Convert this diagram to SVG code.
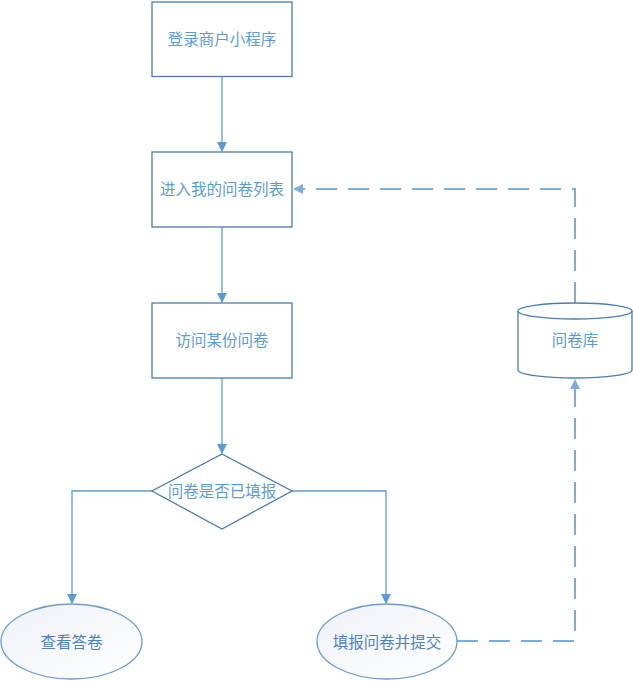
<svg xmlns="http://www.w3.org/2000/svg" width="633" height="681" viewBox="0 0 633 681">
<style>
.n{fill:#fff;stroke:#4a7cb0;stroke-width:1.3}
.t{font-family:"Noto Sans CJK SC","Microsoft YaHei",sans-serif;font-size:15.5px;fill:#5b9bd5;text-anchor:middle;dominant-baseline:central}
.c{fill:none;stroke:#5b9bd5;stroke-width:1.3}
.d{fill:none;stroke:#5b9bd5;stroke-width:2;stroke-dasharray:21 11;opacity:.8}
</style>
<defs>
<marker id="a" markerWidth="10" markerHeight="10" refX="9" refY="5" orient="auto" markerUnits="userSpaceOnUse"><path d="M0,0 L10,5 L0,10 Z" fill="#5b9bd5"/></marker>
<linearGradient id="g" x1="0" y1="0" x2="1" y2="1"><stop offset="0" stop-color="#eef1f8"/><stop offset="1" stop-color="#ffffff"/></linearGradient>
</defs>
<g id="connectors">
<path class="c" d="M222,76.5 V151" marker-end="url(#a)"/>
<path class="c" d="M222,227 V302" marker-end="url(#a)"/>
<path class="c" d="M222,378 V453" marker-end="url(#a)"/>
<path class="c" d="M152,491 H72 V603" marker-end="url(#a)"/>
<path class="c" d="M292,491 H386 V603" marker-end="url(#a)"/>
<path class="d" d="M457,641 H575 V380" marker-end="url(#a)"/>
<path class="d" d="M575,303 V189 H294" marker-end="url(#a)"/>
</g>
<g id="n1"><rect class="n" x="152" y="2" width="140" height="74.5"/><text class="t" x="222" y="38">登录商户小程序</text></g>
<g id="n2"><rect class="n" x="152" y="152" width="140" height="75"/><text class="t" x="222" y="188">进入我的问卷列表</text></g>
<g id="n3"><rect class="n" x="152" y="303" width="140" height="75"/><text class="t" x="222" y="339">访问某份问卷</text></g>
<g id="n4"><path class="n" d="M222,454 L292,491 L222,529 L152,491 Z"/><text class="t" x="222" y="490">问卷是否已填报</text></g>
<g id="n5"><ellipse cx="71.5" cy="641.5" rx="70.5" ry="37.5" fill="url(#g)" stroke="#6a9bcf" stroke-width="1.3"/><text class="t" x="71.5" y="640.5" style="fill:#4f81bd">查看答卷</text></g>
<g id="n6"><ellipse cx="387" cy="641.5" rx="70" ry="37.5" fill="url(#g)" stroke="#6a9bcf" stroke-width="1.3"/><text class="t" x="387" y="640.5" style="fill:#4f81bd">填报问卷并提交</text></g>
<g id="n7"><path class="n" d="M518,311 A57,8 0 0 1 632,311 V370 A57,8 0 0 1 518,370 Z"/><path fill="none" stroke="#4a7cb0" stroke-width="1.3" d="M518,311 A57,8 0 0 0 632,311"/><text class="t" x="575" y="339">问卷库</text></g>
</svg>
